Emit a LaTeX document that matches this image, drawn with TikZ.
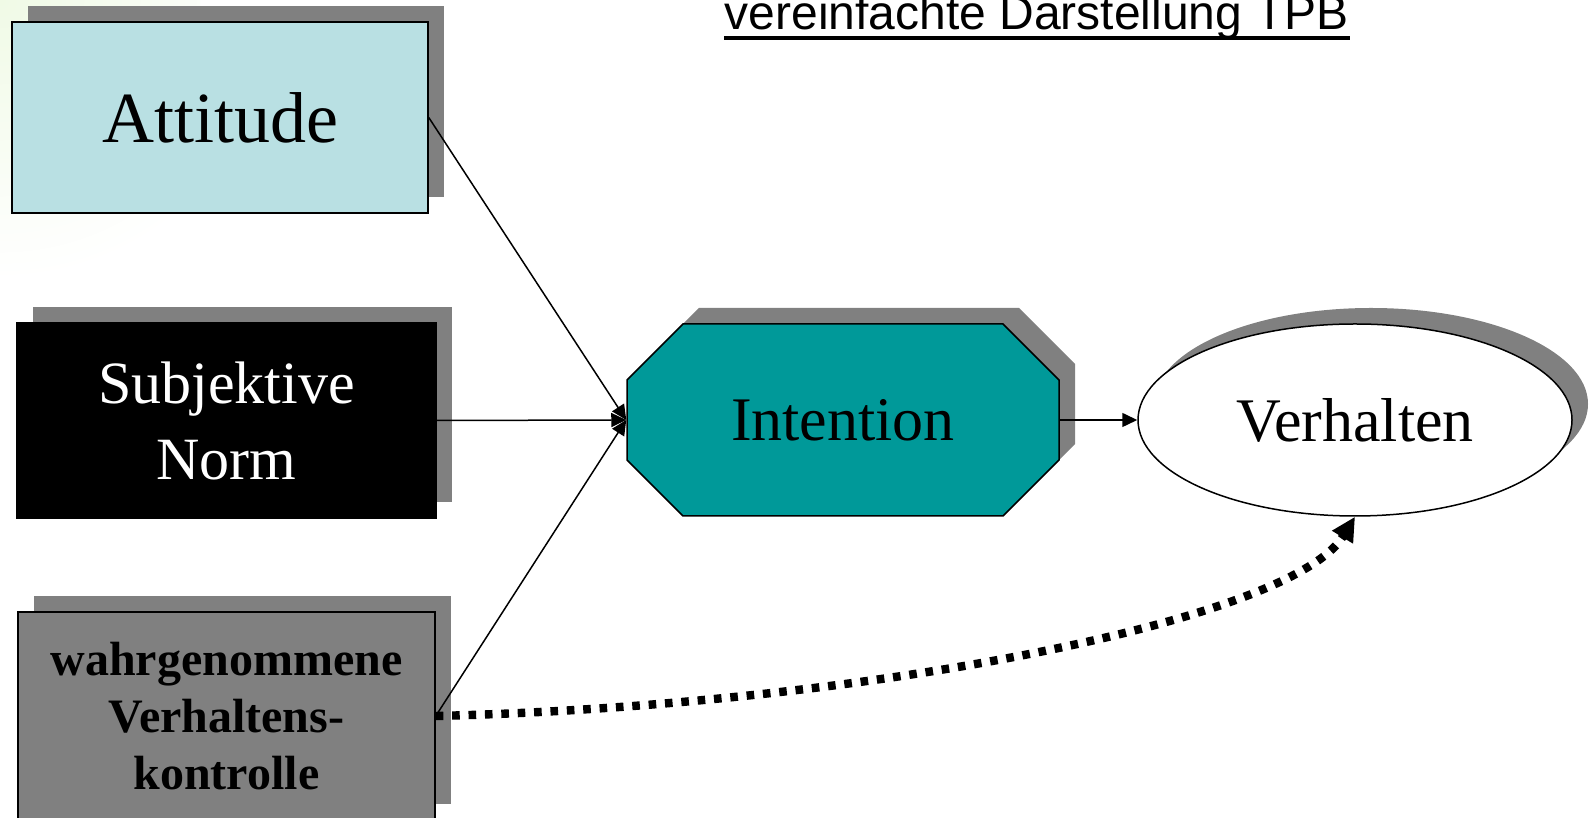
\documentclass[tikz,border=0pt]{standalone}
\usepackage{fontspec}
\setmainfont{Liberation Serif}
\newfontfamily\titelfont{Liberation Sans}
\usepackage{tikz}
\usetikzlibrary{arrows.meta,shapes.geometric,shadows}

\definecolor{hellblau}{RGB}{185,224,227}
\definecolor{petrol}{RGB}{0,153,153}
\definecolor{schatten}{RGB}{128,128,128}
\definecolor{hellgruen}{RGB}{240,250,230}

\tikzset{
    schlagschatten/.style={general shadow={fill=schatten, shadow xshift=8pt, shadow yshift=8pt}},
    kasten/.style={draw, inner sep=0pt, align=center, schlagschatten},
}

\begin{document}
\begin{tikzpicture}[x=0.5pt, y=0.5pt, line width=0.75pt, >={Triangle[length=7.5pt,width=7pt]}]
\useasboundingbox (0,0) rectangle (1590,818);

% Hintergrund
\begin{scope}
    \clip (0,518) rectangle (200,818);
    \shade[inner color=hellgruen, outer color=white] (0,818) circle (280);
\end{scope}

% Titel
\node[anchor=base west, inner sep=0pt, font=\titelfont\fontsize{24}{28}\selectfont] (titel) at (724,788) {vereinfachte Darstellung TPB};
\draw[line width=2.4pt] ([yshift=-4pt]titel.base west) -- ([yshift=-4pt]titel.base east);

% Einflussgroessen
\node[kasten, fill=hellblau, minimum width=208pt, minimum height=95.5pt,
      font=\fontsize{36}{40}\selectfont] (attitude) at (220,700.5) {Attitude};
\node[kasten, fill=black, text=white, minimum width=209.5pt, minimum height=97.5pt,
      font=\fontsize{30}{38}\selectfont] (norm) at (226.5,397.5) {Subjektive\\Norm};
\node[kasten, fill=schatten, minimum width=208.5pt, minimum height=104pt,
      font=\bfseries\fontsize{24}{28.5}\selectfont] (kontrolle) at (226.5,102) {wahrgenommene\\Verhaltens-\\kontrolle};

% Achteck
\fill[schatten, shift={(16,16)}] (627,438) -- (683,494) -- (1003,494) -- (1059,438)
    -- (1059,358) -- (1003,302) -- (683,302) -- (627,358) -- cycle;
\draw[fill=petrol] (627,438) -- (683,494) -- (1003,494) -- (1059,438)
    -- (1059,358) -- (1003,302) -- (683,302) -- (627,358) -- cycle;
\node[minimum width=216pt, minimum height=96pt, inner sep=0pt,
      font=\fontsize{31}{36}\selectfont] (intention) at (843,398) {Intention};

% Ellipse
\node[ellipse, draw, fill=white, minimum width=217pt, minimum height=96pt, inner sep=0pt, schlagschatten,
      font=\fontsize{31}{36}\selectfont] (verhalten) at (1355,398) {Verhalten};

% Pfeile
\draw[->] (attitude.east) -- (intention.west);
\draw[->] (norm.east) -- (intention.west);
\draw[->] (kontrolle.east) -- (intention.west);
\draw[->] (intention.east) -- (verhalten.west);
\draw[line width=4.2pt, dash pattern=on 3.8pt off 4.4pt, -{Triangle[length=12pt,width=11.5pt]}]
    (kontrolle.east) .. controls (850,112) and (1290,195) .. (verhalten.south);

\end{tikzpicture}
\end{document}
